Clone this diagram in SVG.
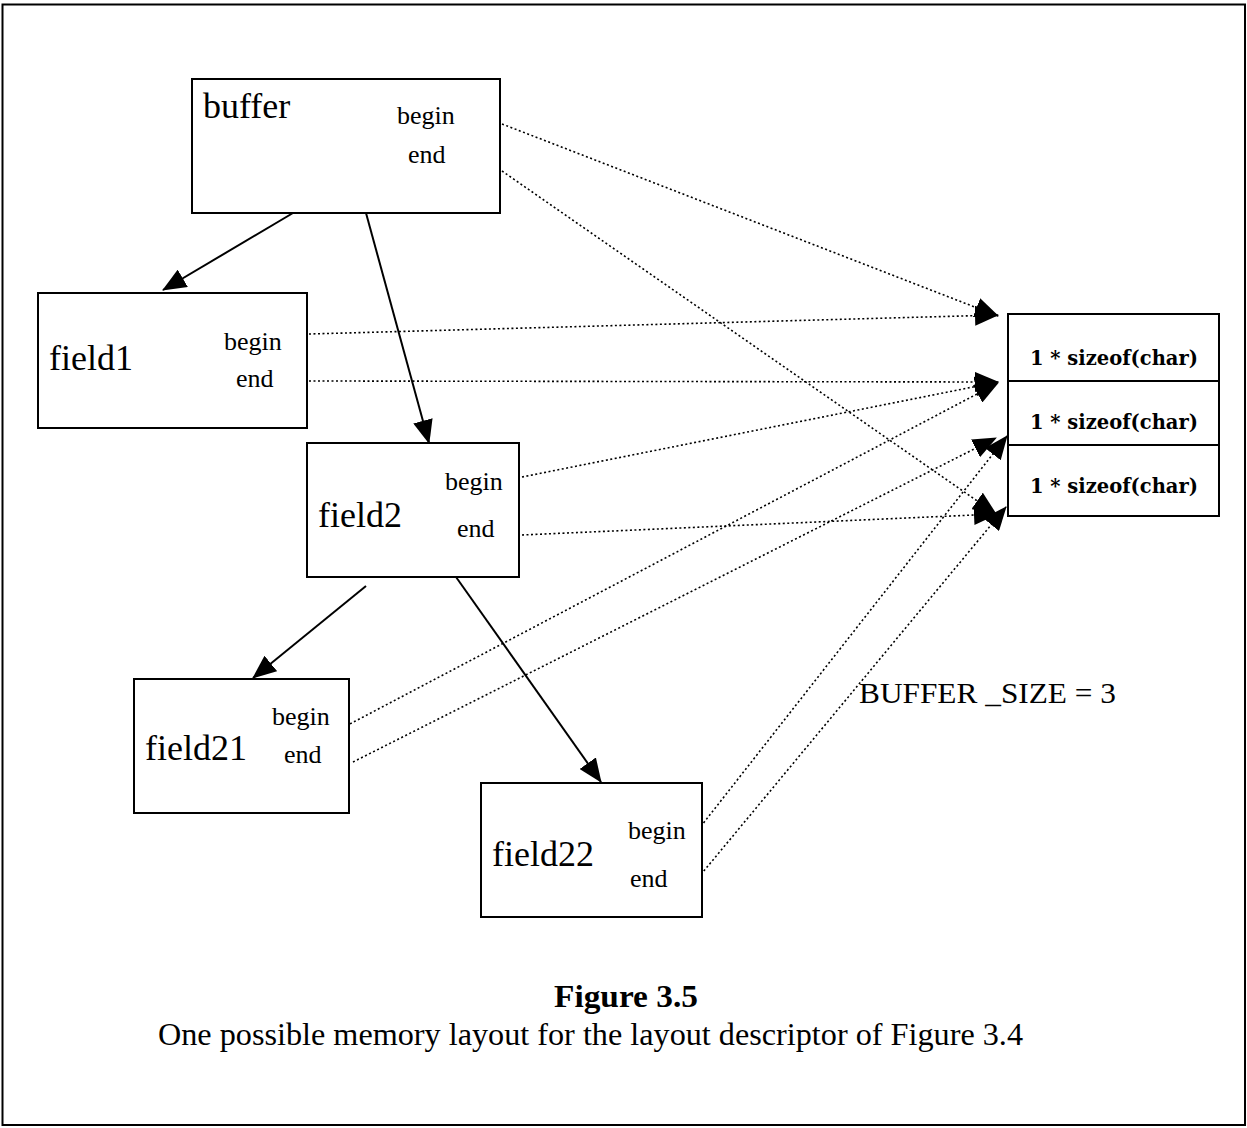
<svg xmlns="http://www.w3.org/2000/svg" width="1247" height="1128" viewBox="0 0 1247 1128">
<style>
  .box { fill: #fff; stroke: #000; stroke-width: 2; }
  .lbl { font-family: "Liberation Serif", "Times New Roman", serif; font-size: 36px; fill: #000; }
  .ptr { font-family: "Liberation Serif", "Times New Roman", serif; font-size: 26px; fill: #000; }
  .cell { font-family: "DejaVu Serif", "Liberation Serif", serif; font-size: 19.5px; font-weight: bold; fill: #000; }
  .solid { stroke: #000; stroke-width: 2; fill: none; marker-end: url(#arr); }
  .dot { stroke: #000; stroke-width: 1.6; stroke-dasharray: 2 2.5; fill: none; marker-end: url(#arr); }
  .cap { font-family: "Liberation Serif", "Times New Roman", serif; font-size: 32.3px; fill: #000; }
</style>
<defs>
  <marker id="arr" markerUnits="userSpaceOnUse" viewBox="0 0 24 20" markerWidth="24" markerHeight="20" refX="23" refY="10" orient="auto">
    <path d="M0,0 L24,10 L0,20 z" fill="#000"/>
  </marker>
</defs>
<rect x="0" y="0" width="1247" height="1128" fill="#fff"/>
<rect x="2.5" y="4.5" width="1242.5" height="1120.5" fill="none" stroke="#000" stroke-width="2"/>

<g id="connectors">
  <line class="solid" x1="293" y1="213" x2="163" y2="290"/>
  <line class="solid" x1="366" y1="213" x2="429" y2="443"/>
  <line class="solid" x1="366" y1="586" x2="253" y2="678"/>
  <line class="solid" x1="456" y1="577" x2="601" y2="782"/>

  <line class="dot" x1="502" y1="124" x2="998" y2="316"/>
  <line class="dot" x1="502" y1="171" x2="996" y2="514"/>
  <line class="dot" x1="309" y1="334" x2="998" y2="315"/>
  <line class="dot" x1="309" y1="381" x2="998" y2="382"/>
  <line class="dot" x1="522" y1="477" x2="998" y2="382"/>
  <line class="dot" x1="522" y1="535" x2="997" y2="514"/>
  <line class="dot" x1="346" y1="726" x2="998" y2="383"/>
  <line class="dot" x1="353" y1="762" x2="996" y2="438"/>
  <line class="dot" x1="698" y1="830" x2="1007" y2="436"/>
  <line class="dot" x1="698" y1="878" x2="1006" y2="507"/>
</g>

<g id="buffer">
  <rect class="box" x="192" y="79" width="308" height="134"/>
  <text class="lbl" x="203" y="118">buffer</text>
  <text class="ptr" x="397" y="124">begin</text>
  <text class="ptr" x="408" y="163">end</text>
</g>

<g id="field1">
  <rect class="box" x="38" y="293" width="269" height="135"/>
  <text class="lbl" x="49" y="370">field1</text>
  <text class="ptr" x="224" y="350">begin</text>
  <text class="ptr" x="236" y="387">end</text>
</g>

<g id="field2">
  <rect class="box" x="307" y="443" width="212" height="134"/>
  <text class="lbl" x="318" y="527">field2</text>
  <text class="ptr" x="445" y="490">begin</text>
  <text class="ptr" x="457" y="537">end</text>
</g>

<g id="field21">
  <rect class="box" x="134" y="679" width="215" height="134"/>
  <text class="lbl" x="145" y="760">field21</text>
  <text class="ptr" x="272" y="725">begin</text>
  <text class="ptr" x="284" y="763">end</text>
</g>

<g id="field22">
  <rect class="box" x="481" y="783" width="221" height="134"/>
  <text class="lbl" x="492" y="866">field22</text>
  <text class="ptr" x="628" y="839">begin</text>
  <text class="ptr" x="630" y="887">end</text>
</g>

<g id="memory">
  <rect class="box" x="1008" y="314" width="211" height="67"/>
  <rect class="box" x="1008" y="381" width="211" height="64"/>
  <rect class="box" x="1008" y="445" width="211" height="71"/>
  <text class="cell" x="1114" y="365" text-anchor="middle">1 * sizeof(char)</text>
  <text class="cell" x="1114" y="429" text-anchor="middle">1 * sizeof(char)</text>
  <text class="cell" x="1114" y="493" text-anchor="middle">1 * sizeof(char)</text>
</g>

<g id="buffer-size">
  <text class="lbl" style="font-size:30px" x="859" y="703" textLength="257" lengthAdjust="spacingAndGlyphs">BUFFER _SIZE = 3</text>
</g>

<g id="caption">
  <text class="cap" x="554" y="1007" font-weight="bold" textLength="144" lengthAdjust="spacingAndGlyphs">Figure 3.5</text>
  <text class="cap" x="158" y="1045" textLength="865" lengthAdjust="spacingAndGlyphs">One possible memory layout for the layout descriptor of Figure 3.4</text>
</g>
</svg>
